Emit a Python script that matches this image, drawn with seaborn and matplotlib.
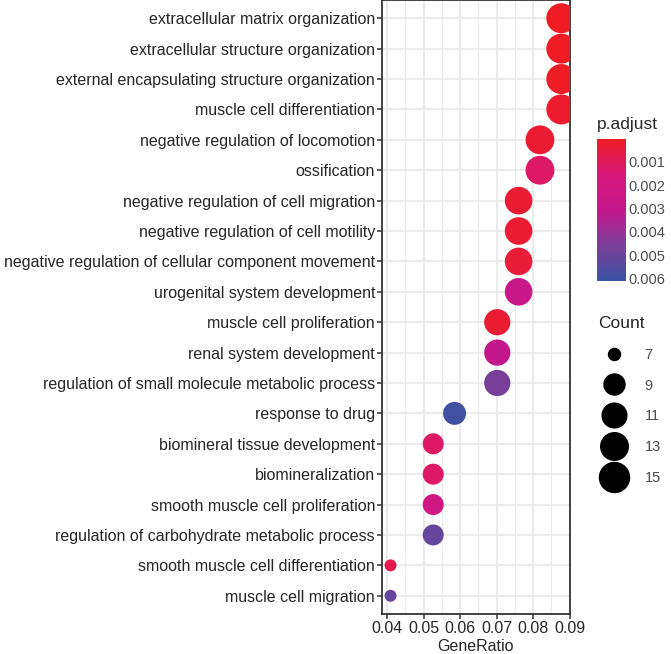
import numpy as np
import pandas as pd
import matplotlib
matplotlib.use("Agg")
import matplotlib.pyplot as plt
from matplotlib.colors import LinearSegmentedColormap, Normalize
from matplotlib.lines import Line2D
import seaborn as sns

sns.set_theme(style="white")
plt.rcParams["font.family"] = ["Liberation Sans", "DejaVu Sans"]

# GO terms, top to bottom
terms = [
    "extracellular matrix organization",
    "extracellular structure organization",
    "external encapsulating structure organization",
    "muscle cell differentiation",
    "negative regulation of locomotion",
    "ossification",
    "negative regulation of cell migration",
    "negative regulation of cell motility",
    "negative regulation of cellular component movement",
    "urogenital system development",
    "muscle cell proliferation",
    "renal system development",
    "regulation of small molecule metabolic process",
    "response to drug",
    "biomineral tissue development",
    "biomineralization",
    "smooth muscle cell proliferation",
    "regulation of carbohydrate metabolic process",
    "smooth muscle cell differentiation",
    "muscle cell migration",
]
counts = [15, 15, 15, 15, 14, 14, 13, 13, 13, 13, 12, 12, 12, 10, 9, 9, 9, 9, 7, 7]
gene_ratio = [c / 171 for c in counts]
p_adjust = [0.00005, 0.00005, 0.00006, 0.0002, 0.0003, 0.0012, 0.0003, 0.0003,
            0.0004, 0.0028, 0.0003, 0.0031, 0.0047, 0.0059, 0.0012, 0.0012,
            0.0022, 0.0051, 0.0008, 0.0051]

size_levels = [7, 9, 11, 13, 15]
pad_ticks = [0.001, 0.002, 0.003, 0.004, 0.005, 0.006]

df = pd.DataFrame({
    "Description": terms,
    "GeneRatio": gene_ratio,
    "Count": counts,
    "p.adjust": p_adjust,
})

# red -> blue gradient like ggplot's continuous colour scale
cmap = LinearSegmentedColormap.from_list(
    "padj", ["#EE1D25", "#D8187A", "#C4178C", "#7B3F98", "#3A53A4"]
)
norm = Normalize(vmin=0.00003, vmax=0.0061)


def diam_px(c):
    # ggplot area scale: diameter range ~12..30 px
    return 12 + 18 * np.sqrt((c - 7) / 8)


size_map = {c: (diam_px(c) * 0.72) ** 2 for c in sorted(set(counts) | set(size_levels))}

W, H = 671, 654
fig = plt.figure(figsize=(W / 100, H / 100), dpi=100)
ax = fig.add_axes([382 / W, (H - 614) / H, 188 / W, 614 / H])

sns.scatterplot(
    data=df,
    x="GeneRatio",
    y="Description",
    hue="p.adjust",
    palette=cmap,
    hue_norm=norm,
    size="Count",
    sizes=size_map,
    linewidth=0,
    legend=False,
    ax=ax,
    zorder=3,
)

ax.set_xlim(0.0386, 0.0901)
ax.set_ylim(len(terms) - 0.4, -0.6)
ax.set_xticks([0.04, 0.05, 0.06, 0.07, 0.08, 0.09])
ax.set_xticklabels(["0.04", "0.05", "0.06", "0.07", "0.08", "0.09"])
ax.set_xticks([0.045, 0.055, 0.065, 0.075, 0.085], minor=True)
ax.grid(True, which="major", color="#EBEBEB", linewidth=1.5, zorder=0)
ax.grid(True, which="minor", axis="x", color="#EBEBEB", linewidth=0.8, zorder=0)
ax.set_axisbelow(True)
for s in ax.spines.values():
    s.set_color("#333333")
    s.set_linewidth(1.3)
ax.tick_params(axis="both", which="major", length=3.5, width=1.1, color="#333333",
               labelsize=11.5, labelcolor="#262626", pad=1.5, bottom=True, left=True)
ax.tick_params(axis="x", which="minor", length=0)
ax.set_xlabel("GeneRatio", fontsize=11.5, color="#262626", labelpad=2)
ax.set_ylabel("")

# colour bar legend
fig.text(597 / W, 1 - 125 / H, "p.adjust", fontsize=12.5, va="center", ha="left")
cax = fig.add_axes([597 / W, 1 - 281 / H, 29 / W, 142 / H])
sm = plt.cm.ScalarMappable(cmap=cmap, norm=norm)
cb = fig.colorbar(sm, cax=cax)
cb.outline.set_visible(False)
cax.invert_yaxis()
cb.set_ticks(pad_ticks)
cb.set_ticklabels([f"{t:.3f}" for t in pad_ticks])
cax.tick_params(axis="y", direction="in", color="white", length=5, width=1,
                left=True, right=True, labelleft=False, labelright=True,
                labelsize=10.5, labelcolor="#4D4D4D", pad=1.5)

# size legend
handles = [
    Line2D([], [], marker="o", linestyle="", color="black",
           markersize=diam_px(c) * 0.72, label=str(c))
    for c in size_levels
]
leg = fig.legend(
    handles=handles,
    title="Count",
    loc="upper left",
    bbox_to_anchor=(598 / W, 1 - 316 / H),
    frameon=False,
    fontsize=10.5,
    title_fontsize=12.5,
    labelspacing=1.15,
    handlelength=2.2,
    handletextpad=1.0,
    borderaxespad=0,
    borderpad=0,
    alignment="left",
)
for t in leg.get_texts():
    t.set_color("#4D4D4D")

fig.savefig("out.png", dpi=100)
